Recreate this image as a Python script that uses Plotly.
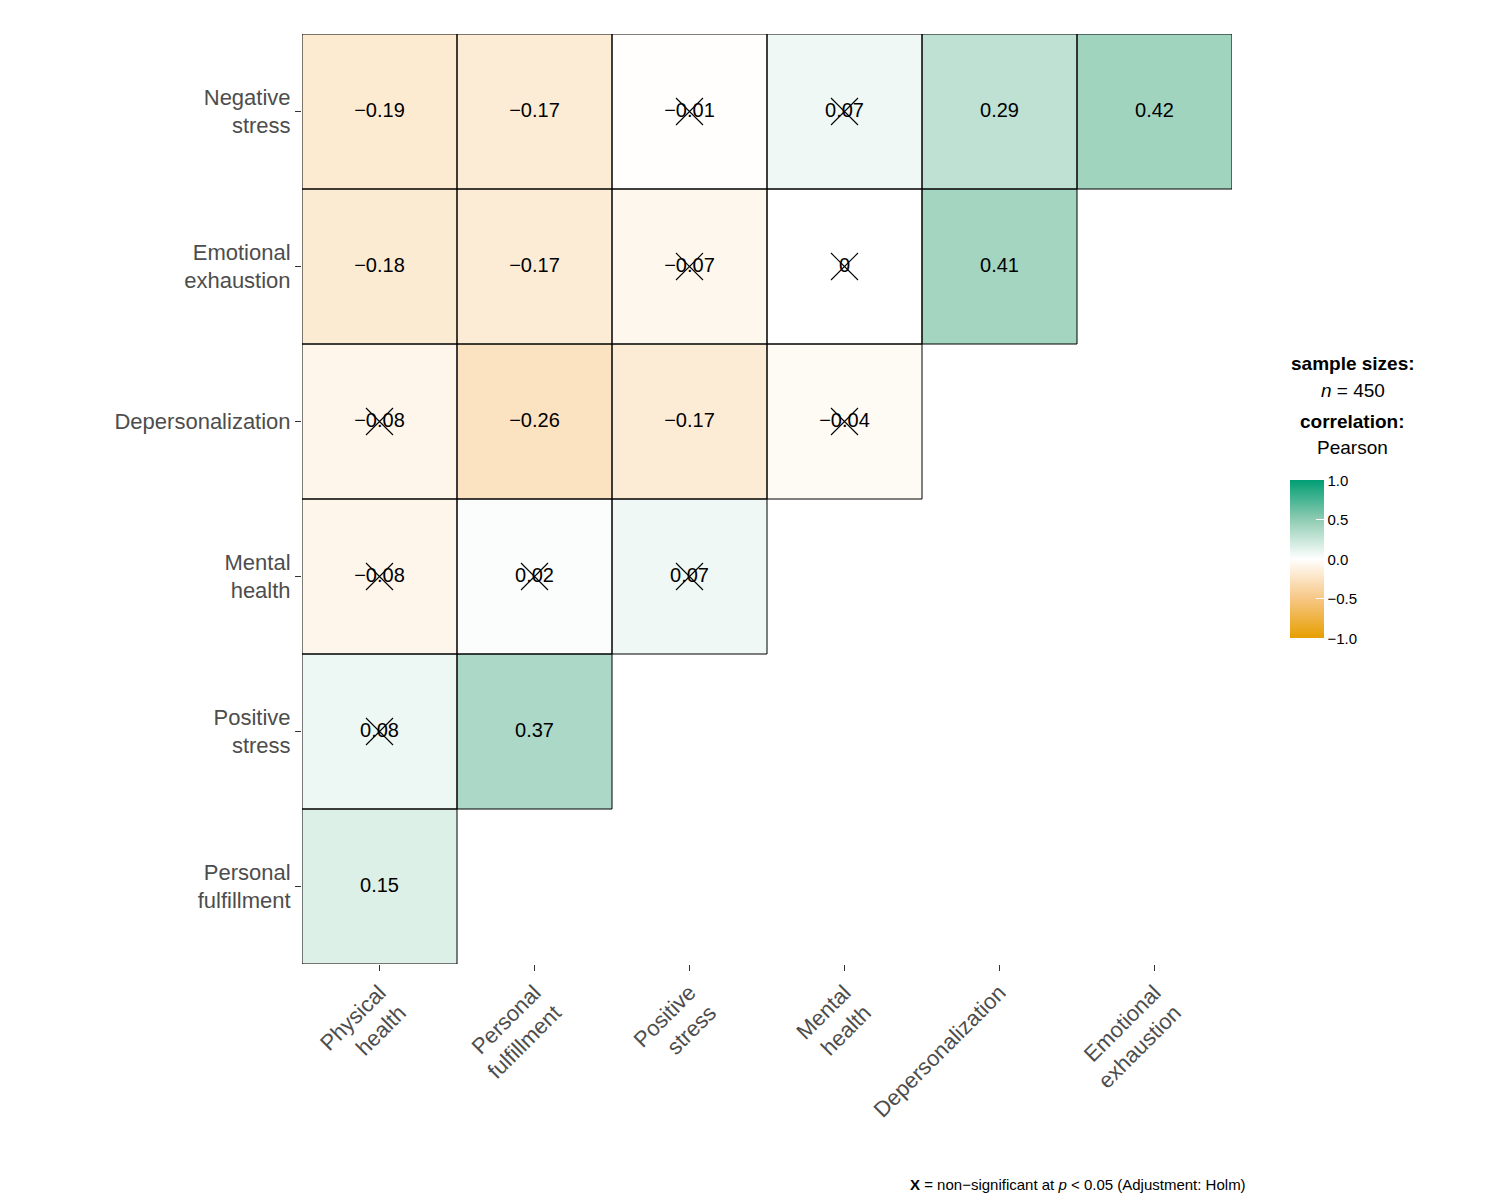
import plotly.graph_objects as go

cols = ["Physical<br>health", "Personal<br>fulfillment", "Positive<br>stress",
        "Mental<br>health", "Depersonalization", "Emotional<br>exhaustion"]
rows = ["Negative<br>stress", "Emotional<br>exhaustion", "Depersonalization",
        "Mental<br>health", "Positive<br>stress", "Personal<br>fulfillment"]
values = [
    [-0.19, -0.17, -0.01, 0.07, 0.29, 0.42],
    [-0.18, -0.17, -0.07, 0.00, 0.41, None],
    [-0.08, -0.26, -0.17, -0.04, None, None],
    [-0.08, 0.02, 0.07, None, None, None],
    [0.08, 0.37, None, None, None, None],
    [0.15, None, None, None, None, None],
]
nonsig = [
    [False, False, True, True, False, False],
    [False, False, True, True, False, None],
    [True, False, False, True, None, None],
    [True, True, True, None, None, None],
    [True, False, None, None, None, None],
    [False, None, None, None, None, None],
]

ny = len(rows)
yidx = [ny - 1 - i for i in range(ny)]  # top row first
font = "Liberation Sans, Arial, sans-serif"

fig = go.Figure()
fig.add_trace(go.Heatmap(
    z=values, x=list(range(len(cols))), y=yidx,
    zmin=-1, zmax=1,
    colorscale=[[0, "#E69F00"], [0.25, "#F7C785"], [0.5, "#FFFFFF"],
                [0.75, "#8FCCB3"], [1, "#009E73"]],
    hoverongaps=False,
    colorbar=dict(x=1.052, xanchor="left", y=0.435, yanchor="middle",
                  len=0.191, thickness=34, outlinewidth=0,
                  tickvals=[-1, -0.5, 0, 0.5, 1],
                  ticktext=["−1.0", "−0.5", "0.0", "0.5", "1.0"],
                  ticks="inside", tickcolor="white", ticklen=8,
                  tickfont=dict(size=15, color="black", family=font)),
))

shapes = []
tx, ty, tt, cx, cy = [], [], [], [], []
for i, r in enumerate(values):
    for j, v in enumerate(r):
        if v is None:
            continue
        y = yidx[i]
        shapes.append(dict(type="rect", x0=j - 0.5, x1=j + 0.5, y0=y - 0.5, y1=y + 0.5,
                           line=dict(color="black", width=1), layer="above"))
        tx.append(j); ty.append(y)
        tt.append("0" if v == 0 else f"{v:.2f}".replace("-", "−"))
        if nonsig[i][j]:
            cx.append(j); cy.append(y)

fig.add_trace(go.Scatter(x=tx, y=ty, text=tt, mode="text",
                         textfont=dict(size=20, color="black", family=font),
                         hoverinfo="skip", showlegend=False))
fig.add_trace(go.Scatter(x=cx, y=cy, mode="markers",
                         marker=dict(symbol="x-thin", size=27,
                                     line=dict(color="black", width=1.1)),
                         hoverinfo="skip", showlegend=False))

ann = [
    dict(text="<b>sample sizes:</b>", x=1.130, y=(956 - 355) / 930),
    dict(text="<i>n</i> = 450", x=1.130, y=(956 - 382) / 930),
    dict(text="<b>correlation:</b>", x=1.130, y=(956 - 413) / 930),
    dict(text="Pearson", x=1.130, y=(956 - 439) / 930),
]
annotations = [dict(a, xref="paper", yref="paper", showarrow=False,
                    xanchor="center", yanchor="middle",
                    font=dict(size=19, color="black", family=font)) for a in ann]
annotations.append(dict(text="<b>X</b> = non−significant at <i>p</i> < 0.05 (Adjustment: Holm)",
                        xref="paper", yref="paper", x=(1240 - 294) / 930, y=(956 - 1176) / 930,
                        xanchor="right", yanchor="middle", showarrow=False,
                        font=dict(size=15, color="black", family=font)))

fig.update_layout(
    width=1500, height=1200,
    margin=dict(l=294, r=276, t=26, b=244),
    plot_bgcolor="white", paper_bgcolor="white",
    font=dict(family=font),
    shapes=shapes, annotations=annotations,
    xaxis=dict(tickvals=list(range(len(cols))), ticktext=cols, tickangle=-45,
               range=[-0.5, len(cols) - 0.5], showgrid=False, zeroline=False,
               automargin=False,
               ticks="outside", ticklen=6, tickcolor="#333333",
               tickfont=dict(size=22, color="#4d4d4d")),
    yaxis=dict(tickvals=yidx, ticktext=rows, range=[-0.5, ny - 0.5],
               showgrid=False, zeroline=False, automargin=False,
               ticks="outside", ticklen=6, tickcolor="#333333",
               tickfont=dict(size=22, color="#4d4d4d")),
)

fig.write_html("out.html")
